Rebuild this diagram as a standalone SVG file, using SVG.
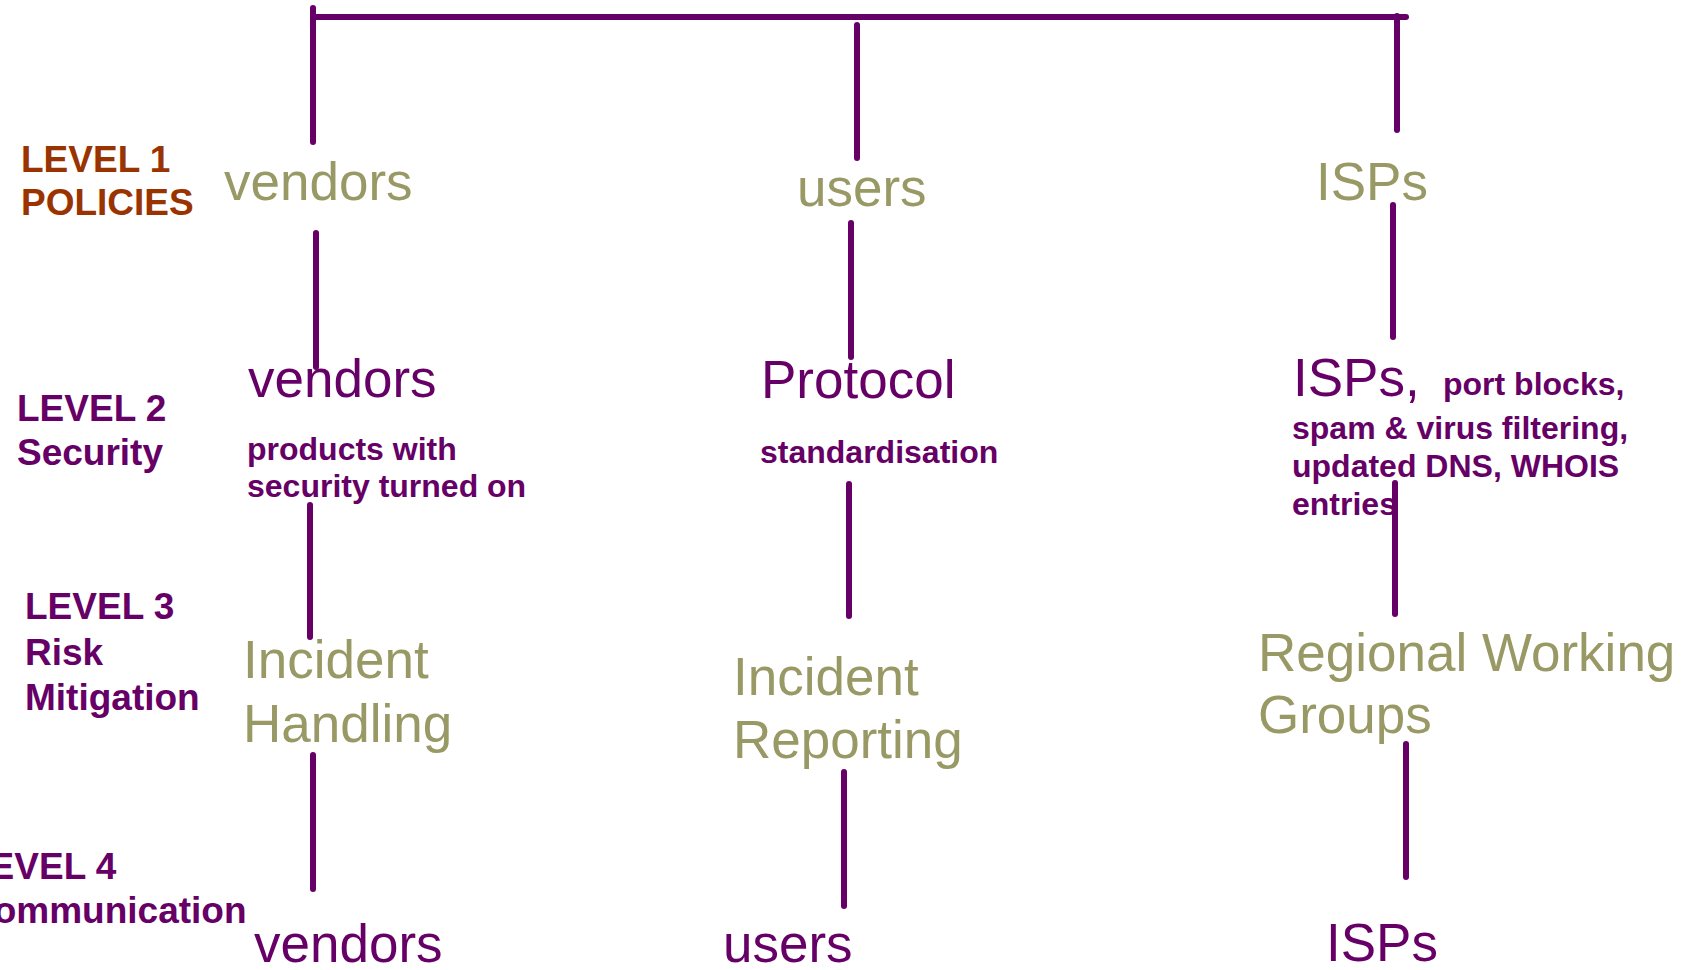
<svg xmlns="http://www.w3.org/2000/svg" width="1693" height="970" viewBox="0 0 1693 970">
<style>
.ln{stroke:#660066;stroke-width:6;stroke-linecap:round;fill:none}
.lvl{font-family:"Liberation Sans",Arial,sans-serif;font-weight:bold;font-size:37px;fill:#660066}
.l1{fill:#993300}
.big{font-family:"Liberation Sans",Arial,sans-serif;font-size:53px}
.kh{fill:#999966}
.pu{fill:#660066}
.sm{font-family:"Liberation Sans",Arial,sans-serif;font-weight:bold;font-size:32px;fill:#660066}
</style>
<rect width="1693" height="970" fill="#ffffff"/>
<g id="connectors">
<line class="ln" x1="313" y1="17" x2="1406" y2="17"/>
<line class="ln" x1="313" y1="8" x2="313" y2="142"/>
<line class="ln" x1="857" y1="25" x2="857" y2="158"/>
<line class="ln" x1="1397" y1="16" x2="1397" y2="130"/>
<line class="ln" x1="316" y1="233" x2="316" y2="367"/>
<line class="ln" x1="851" y1="223" x2="851" y2="357"/>
<line class="ln" x1="1393" y1="205" x2="1393" y2="337"/>
<line class="ln" x1="310" y1="505" x2="310" y2="637"/>
<line class="ln" x1="849" y1="484" x2="849" y2="616"/>
<line class="ln" x1="1395" y1="483" x2="1395" y2="614"/>
<line class="ln" x1="313" y1="755" x2="313" y2="889"/>
<line class="ln" x1="844" y1="772" x2="844" y2="906"/>
<line class="ln" x1="1406" y1="744" x2="1406" y2="877"/>
</g>
<g id="level1-label"><text class="lvl l1" x="21" y="172">LEVEL 1</text><text class="lvl l1" x="21" y="215">POLICIES</text></g>
<g id="level2-label"><text class="lvl" x="17" y="421">LEVEL 2</text><text class="lvl" x="17" y="465">Security</text></g>
<g id="level3-label"><text class="lvl" x="25" y="619">LEVEL 3</text><text class="lvl" x="25" y="665">Risk</text><text class="lvl" x="25" y="710">Mitigation</text></g>
<g id="level4-label"><text class="lvl" x="-33" y="879">LEVEL 4</text><text class="lvl" x="-33" y="923">Communication</text></g>
<g id="l1-vendors"><text class="big kh" x="224" y="200">vendors</text></g>
<g id="l1-users"><text class="big kh" x="797" y="206">users</text></g>
<g id="l1-isps"><text class="big kh" x="1316" y="200">ISPs</text></g>
<g id="l2-vendors"><text class="big pu" x="248" y="397">vendors</text><text class="sm" x="247" y="460">products with</text><text class="sm" x="247" y="497">security turned on</text></g>
<g id="l2-protocol"><text class="big pu" x="761" y="398">Protocol</text><text class="sm" x="760" y="463">standardisation</text></g>
<g id="l2-isps"><text class="big pu" x="1293" y="396">ISPs,</text><text class="sm" x="1443" y="395">port blocks,</text><text class="sm" x="1292" y="439">spam &amp; virus filtering,</text><text class="sm" x="1292" y="477">updated DNS, WHOIS</text><text class="sm" x="1292" y="515">entries</text></g>
<g id="l3-incident-handling"><text class="big kh" x="243" y="678">Incident</text><text class="big kh" x="243" y="742">Handling</text></g>
<g id="l3-incident-reporting"><text class="big kh" x="733" y="695">Incident</text><text class="big kh" x="733" y="758">Reporting</text></g>
<g id="l3-regional"><text class="big kh" x="1258" y="671">Regional Working</text><text class="big kh" x="1258" y="733">Groups</text></g>
<g id="l4-vendors"><text class="big pu" x="254" y="962">vendors</text></g>
<g id="l4-users"><text class="big pu" x="723" y="962">users</text></g>
<g id="l4-isps"><text class="big pu" x="1326" y="961">ISPs</text></g>
</svg>
